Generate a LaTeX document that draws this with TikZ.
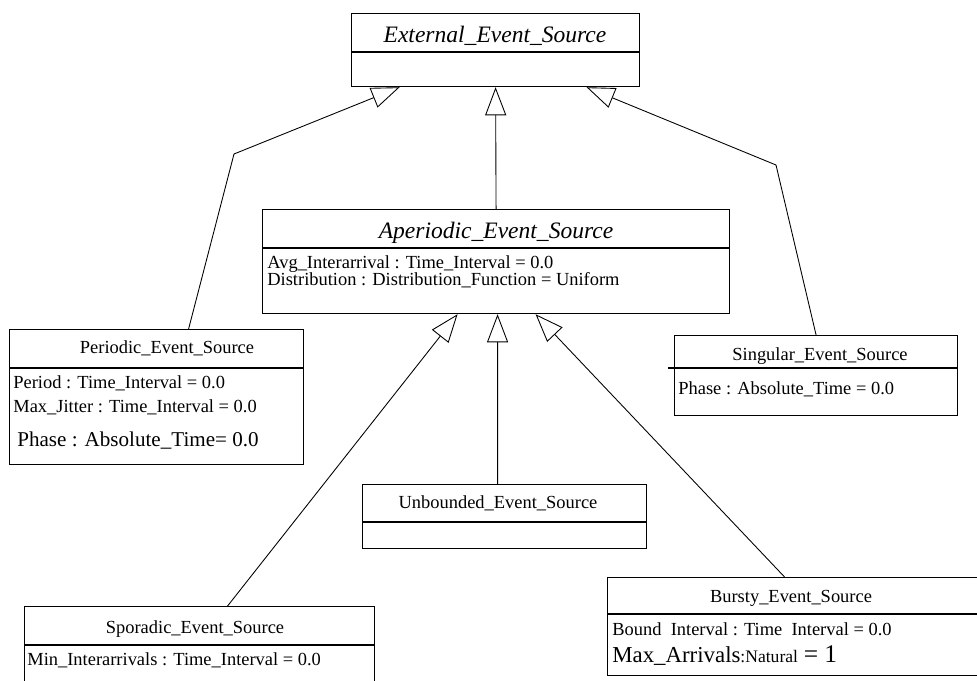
\documentclass[tikz,border=0pt]{standalone}
\usepackage{fontspec}
\setmainfont{Liberation Serif}
\usetikzlibrary{arrows.meta}
\usetikzlibrary{positioning}

\tikzset{
  classbox/.style={draw,line width=0.7pt,inner sep=0pt,anchor=north west},
  sep/.style={line width=0.7pt},
  classname/.style={font=\fontsize{10.5}{12}\selectfont,anchor=base},
  abstractname/.style={font=\fontsize{13.4}{15}\selectfont\itshape,anchor=base},
  attr/.style={font=\fontsize{10.5}{12}\selectfont,anchor=base west,inner sep=0pt},
  gen/.style={line width=0.5pt,-{Triangle[open,length=16pt,width=12pt]}},
}

\begin{document}
\begin{tikzpicture}[x=0.02cm,y=-0.02cm]
\useasboundingbox (0,0) rectangle (977,680);
\clip (0,0) rectangle (977,680);

\node[classbox,minimum width=5.76cm,minimum height=1.46cm] (ext) at (351,13) {};
\node[classbox,minimum width=9.34cm,minimum height=2.08cm] (ape) at (262,209) {};
\node[classbox,minimum width=5.88cm,minimum height=2.7cm] (per) at (9,329) {};
\node[classbox,minimum width=5.66cm,minimum height=1.6cm] (sin) at (674,335) {};
\node[classbox,minimum width=5.68cm,minimum height=1.28cm] (unb) at (362,484) {};
\node[classbox,minimum width=7cm,minimum height=2cm] (spo) at (24,606) {};
\node[classbox,minimum width=7.6cm,minimum height=1.96cm] (bur) at (607,577) {};

\draw[sep] ([shift={(0,39)}]ext.north west) -- ([shift={(0,39)}]ext.north east);
\draw[sep] ([shift={(0,39)}]ape.north west) -- ([shift={(0,39)}]ape.north east);
\draw[sep] ([shift={(0,39)}]per.north west) -- ([shift={(0,39)}]per.north east);
\draw[sep] ([shift={(-6,33)}]sin.north west) -- ([shift={(0,33)}]sin.north east);
\draw[sep] ([shift={(0,38)}]unb.north west) -- ([shift={(0,38)}]unb.north east);
\draw[sep] ([shift={(0,39)}]spo.north west) -- ([shift={(0,39)}]spo.north east);
\draw[sep] ([shift={(0,37)}]bur.north west) -- ([shift={(0,37)}]bur.north east);

\node[abstractname] (extT) at (495,42) {External\_Event\_Source};
\node[abstractname] (apeT) at (496,238) {Aperiodic\_Event\_Source};
\node[classname] (perT) at (167,353) {Periodic\_Event\_Source};
\node[classname] (sinT) at (820,360) {Singular\_Event\_Source};
\node[classname] (unbT) at (498,508) {Unbounded\_Event\_Source};
\node[classname] (spoT) at (195,633) {Sporadic\_Event\_Source};
\node[classname] (burT) at (791,602) {Bursty\_Event\_Source};

\node[attr] (apeA1) at (267,268) {Avg\_Interarrival : Time\_Interval = 0.0};
\node[attr] (apeA2) at (267,285) {Distribution : Distribution\_Function = Uniform};
\node[attr] (perA1) at (13,388) {Period : Time\_Interval = 0.0};
\node[attr] (perA2) at (13,412) {Max\_Jitter : Time\_Interval = 0.0};
\node[attr,font=\fontsize{12}{14}\selectfont] (perA3) at (17,446) {Phase : Absolute\_Time= 0.0};
\node[attr] (sinA1) at (678,394) {Phase : Absolute\_Time = 0.0};
\node[attr] (spoA1) at (27,665) {Min\_Interarrivals : Time\_Interval = 0.0};
\node[attr] (burA1) at (612,635) {Bound\enspace Interval : Time\enspace Interval = 0.0};
\node[attr] (burA2) at (612,662) {\fontsize{13}{15}\selectfont Max\_Arrivals{\fontsize{10}{12}\selectfont:Natural} {\fontsize{14.5}{16}\selectfont= 1}};

% generalisations
\coordinate (bendL) at (234,154);
\coordinate (bendR) at (776,165);
\draw[gen] ([xshift=0.64cm]per.north) -- (bendL) -- ([xshift=-1.92cm]ext.south);
\draw[gen] (ape.north) -- (ext.south);
\draw[gen] (sin.north) -- (bendR) -- ([xshift=1.82cm]ext.south);
\draw[gen] ([xshift=0.56cm]spo.north) -- ([xshift=-0.77cm]ape.south);
\draw[gen] ([xshift=-0.14cm]unb.north) -- ([xshift=0.03cm]ape.south);
\draw[gen] ([xshift=-0.26cm]bur.north) -- ([xshift=0.79cm]ape.south);

\end{tikzpicture}
\end{document}
